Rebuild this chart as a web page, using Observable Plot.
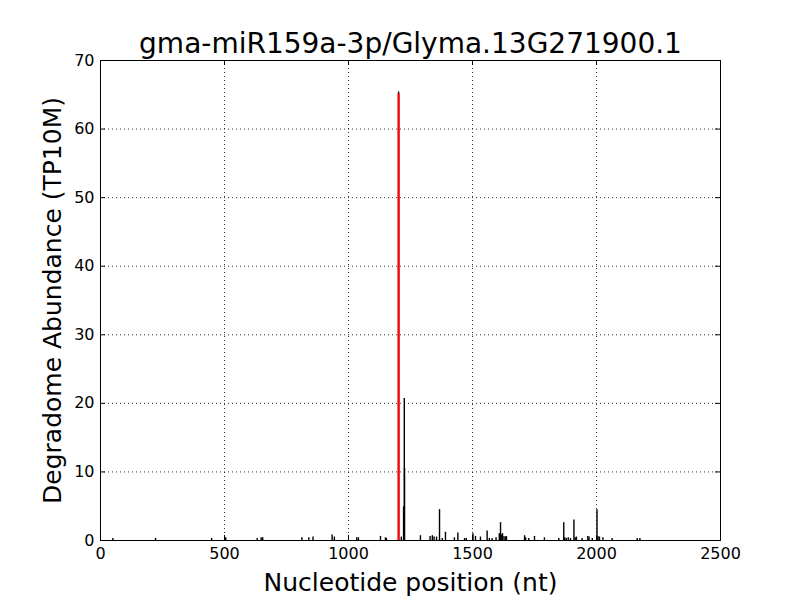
<!DOCTYPE html>
<html>
<head>
<meta charset="utf-8">
<script src="https://cdn.jsdelivr.net/npm/d3@7"></script>
<script src="https://cdn.jsdelivr.net/npm/@observablehq/plot@0.6"></script>
<style>
  html, body { margin: 0; padding: 0; background: #fff; }
  #chart svg { display: block; font-family: "DejaVu Sans", sans-serif; }
</style>
</head>
<body>
<div id="chart"></div>
<script>
const titleText = "gma-miR159a-3p/Glyma.13G271900.1";
const xLabel = "Nucleotide position (nt)";
const yLabel = "Degradome Abundance (TP10M)";
const xTicks = [0, 500, 1000, 1500, 2000, 2500];
const yTicks = [0, 10, 20, 30, 40, 50, 60, 70];

// degradome peaks (position in nt, abundance in TP10M)
const positions = [50, 222, 448, 505, 632, 648, 654, 812, 840, 857, 934, 943, 1033, 1040, 1129, 1149, 1153,
  1202, 1213, 1222, 1225, 1226, 1290, 1329, 1338, 1345, 1355, 1367, 1378, 1391, 1427, 1441, 1468, 1475,
  1502, 1512, 1532, 1559, 1568, 1579, 1595, 1608, 1613, 1617, 1621, 1627, 1633, 1637, 1710, 1714,
  1727, 1750, 1790, 1848, 1868, 1872, 1878, 1886, 1895, 1909, 1914, 1919, 1942, 1965, 1970, 1983,
  2002, 2006, 2012, 2026, 2063, 2164, 2175];
const abundance = [0.3, 0.3, 0.3, 0.4, 0.3, 0.4, 0.4, 0.4, 0.4, 0.5, 0.8, 0.5, 0.4, 0.4, 0.6, 0.4, 0.3,
  65.4, 0.5, 4.9, 20.7, 10.5, 0.7, 0.6, 0.7, 0.5, 0.5, 4.5, 0.3, 1.2, 0.4, 1.1, 0.3, 0.3,
  1.0, 0.6, 0.5, 1.4, 0.3, 0.3, 0.4, 1.0, 2.6, 0.8, 1.0, 0.6, 0.5, 0.6, 0.7, 0.4,
  0.3, 0.6, 0.4, 0.3, 2.6, 0.4, 0.3, 0.4, 0.3, 3.0, 0.4, 0.5, 0.3, 0.6, 0.5, 0.3,
  4.5, 0.6, 0.5, 0.4, 0.3, 0.3, 0.3];
const cleavagePos = [1202];
const cleavageVal = [65.1];

const peaks = positions.map((p, i) => ({pos: p, val: abundance[i]}));
const cleavage = cleavagePos.map((p, i) => ({pos: p, val: cleavageVal[i]}));

const W = 800, H = 600, mL = 100, mR = 80, mT = 60, mB = 60;
const fw = W - mL - mR, fh = H - mT - mB;
const tk = 5;

const chart = Plot.plot({
  width: W, height: H,
  marginLeft: mL, marginRight: mR, marginTop: mT, marginBottom: mB,
  style: {fontFamily: "DejaVu Sans, sans-serif", fontSize: "16px", color: "#000", background: "#fff"},
  x: {domain: [0, 2500], ticks: xTicks, tickFormat: d => String(d), tickSize: 0, label: null},
  y: {domain: [0, 70], ticks: yTicks, tickFormat: d => String(d), tickSize: 0, label: null},
  marks: [
    Plot.gridX(xTicks.slice(1, -1), {stroke: "#000", strokeOpacity: 1, strokeWidth: 0.8, strokeDasharray: "1,3"}),
    Plot.gridY(yTicks.slice(1, -1), {stroke: "#000", strokeOpacity: 1, strokeWidth: 0.8, strokeDasharray: "1,3"}),
    Plot.ruleX(peaks, {x: "pos", y1: 0, y2: "val", stroke: "#000", strokeWidth: 1.4}),
    Plot.ruleX(cleavage, {x: "pos", y1: 0, y2: "val", stroke: "#ff0000", strokeWidth: 2.2}),
    Plot.ruleY([0], {stroke: "#000", strokeWidth: 1}),
    Plot.frame({stroke: "#000", strokeWidth: 1}),
    Plot.tickX(xTicks, {x: d => d, insetTop: fh - tk, stroke: "#000"}),
    Plot.tickX(xTicks, {x: d => d, insetBottom: fh - tk, stroke: "#000"}),
    Plot.tickY(yTicks, {y: d => d, insetRight: fw - tk, stroke: "#000"}),
    Plot.tickY(yTicks, {y: d => d, insetLeft: fw - tk, stroke: "#000"}),
    Plot.axisX(xTicks, {anchor: "bottom", tickSize: 0, tickPadding: 7, fontSize: 16, tickFormat: d => String(d)}),
    Plot.axisY(yTicks, {anchor: "left", tickSize: 0, tickPadding: 6, fontSize: 16, tickFormat: d => String(d)}),
    Plot.text([titleText], {frameAnchor: "top", lineAnchor: "middle", textAnchor: "middle", dy: -16, text: d => d, fontSize: 28, fill: "#000"}),
    Plot.text([xLabel], {frameAnchor: "bottom", lineAnchor: "middle", textAnchor: "middle", dy: 42, text: d => d, fontSize: 25, fill: "#000"}),
    Plot.text([yLabel], {frameAnchor: "left", lineAnchor: "middle", textAnchor: "middle", dx: -48, rotate: -90, text: d => d, fontSize: 25, fill: "#000"})
  ]
});
document.getElementById("chart").appendChild(chart);
</script>
</body>
</html>
